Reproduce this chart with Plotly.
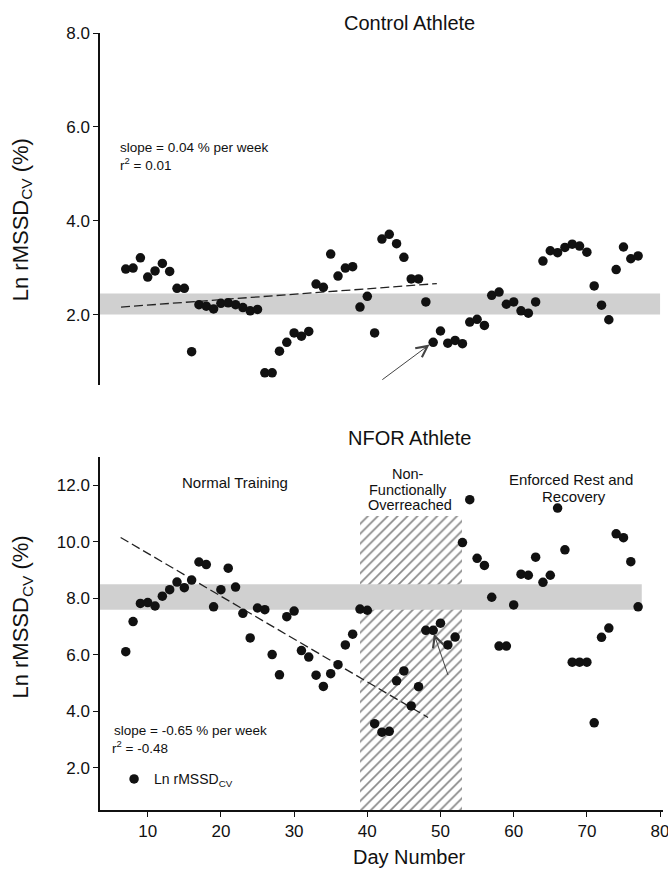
import plotly.graph_objects as go

# ---------------- data ----------------
days = list(range(7, 78))

control_vals = [
    2.97, 2.99, 3.21, 2.80, 2.93, 3.09, 2.92, 2.56, 2.56, 1.21,
    2.21, 2.18, 2.12, 2.24, 2.25, 2.21, 2.15, 2.08, 2.11, 0.76,
    0.76, 1.22, 1.41, 1.61, 1.54, 1.64, 2.65, 2.58, 3.29, 2.82,
    2.99, 3.02, 2.16, 2.39, 1.61, 3.61, 3.71, 3.51, 3.22, 2.76,
    2.76, 2.27, 1.41, 1.65, 1.39, 1.45, 1.38, 1.84, 1.90, 1.77,
    2.41, 2.48, 2.22, 2.27, 2.08, 2.03, 2.27, 3.14, 3.36, 3.32,
    3.43, 3.50, 3.46, 3.33, 2.61, 2.20, 1.89, 2.96, 3.44, 3.19,
    3.25,
]

nfor_vals = [
    6.11, 7.18, 7.82, 7.85, 7.73, 8.08, 8.31, 8.58, 8.38, 8.65,
    9.29, 9.20, 7.70, 8.31, 9.07, 8.40, 7.47, 6.60, 7.66, 7.60,
    6.01, 5.29, 7.35, 7.55, 6.15, 5.92, 5.28, 4.88, 5.33, 5.65,
    6.35, 6.73, 7.62, 7.58, 3.56, 3.26, 3.29, 5.08, 5.43, 4.19,
    4.87, 6.87, 6.87, 7.12, 6.35, 6.63, 9.98, 11.50, 9.42, 9.17,
    8.04, 6.31, 6.31, 7.77, 8.86, 8.82, 9.46, 8.57, 8.82, 11.20,
    9.72, 5.74, 5.74, 5.74, 3.59, 6.62, 6.95, 10.29, 10.15, 9.30,
    7.70,
]

# trend lines (end points)
control_trend_x = [6.35, 49.5]
control_trend_y = [2.16, 2.66]
nfor_trend_x = [6.3, 48.3]
nfor_trend_y = [10.16, 3.78]

# reference bands (normal range)
control_band = [2.0, 2.45]
control_band_end = 80.0
nfor_band = [7.6, 8.5]
nfor_band_end = 77.5

# non-functionally overreached period
nfor_period = [39.0, 53.0]
nfor_period_top = 10.9

x_range = [3.48, 80.4]
y1_range = [0.5, 8.0]
y2_range = [0.5, 13.0]
y1_ticks = [2, 4, 6, 8]
y2_ticks = [2, 4, 6, 8, 10, 12]
x_ticks = [10, 20, 30, 40, 50, 60, 70, 80]

FONT = "Liberation Sans, Arial, Helvetica, sans-serif"
INK = "#111111"
BAND = "#d0d0d0"

fig = go.Figure()

# hatched NFOR period (bar with pattern)
fig.add_trace(go.Bar(
    x=[(nfor_period[0] + nfor_period[1]) / 2],
    y=[nfor_period_top - y2_range[0]],
    base=[y2_range[0]],
    width=[nfor_period[1] - nfor_period[0]],
    marker=dict(color="white", line=dict(width=0),
                pattern=dict(shape="/", fgcolor="#111111", bgcolor="white",
                             size=7, solidity=0.24, fillmode="overlay")),
    xaxis="x2", yaxis="y2", showlegend=False, hoverinfo="skip",
))

# grey bands
fig.add_trace(go.Scatter(
    x=[x_range[0], control_band_end, control_band_end, x_range[0]],
    y=[control_band[0], control_band[0], control_band[1], control_band[1]],
    fill="toself", fillcolor=BAND, mode="lines", line=dict(width=0),
    xaxis="x", yaxis="y", showlegend=False, hoverinfo="skip",
))
fig.add_trace(go.Scatter(
    x=[x_range[0], nfor_band_end, nfor_band_end, x_range[0]],
    y=[nfor_band[0], nfor_band[0], nfor_band[1], nfor_band[1]],
    fill="toself", fillcolor=BAND, mode="lines", line=dict(width=0),
    xaxis="x2", yaxis="y2", showlegend=False, hoverinfo="skip",
))

# trend lines
fig.add_trace(go.Scatter(
    x=control_trend_x, y=control_trend_y, mode="lines",
    line=dict(color="#222222", width=1.3, dash="9px,4px"),
    xaxis="x", yaxis="y", showlegend=False, hoverinfo="skip",
))
fig.add_trace(go.Scatter(
    x=nfor_trend_x, y=nfor_trend_y, mode="lines",
    line=dict(color="#222222", width=1.3, dash="9px,4px"),
    xaxis="x2", yaxis="y2", showlegend=False, hoverinfo="skip",
))

# points
fig.add_trace(go.Scatter(
    x=days, y=control_vals, mode="markers",
    marker=dict(color=INK, size=9.5),
    xaxis="x", yaxis="y", showlegend=False,
))
fig.add_trace(go.Scatter(
    x=days, y=nfor_vals, mode="markers",
    marker=dict(color=INK, size=9.5),
    xaxis="x2", yaxis="y2", showlegend=True,
    name="Ln rMSSD<sub>CV</sub>",
))

axis_common = dict(
    showgrid=False, zeroline=False, showline=True, linecolor=INK,
    linewidth=1.5, ticks="outside", ticklen=5, tickwidth=1.2,
    tickcolor=INK, tickfont=dict(family=FONT, size=17, color=INK),
    ticklabeloverflow="allow", automargin=False,
)

fig.update_layout(
    width=668, height=870,
    margin=dict(l=100, r=5, t=33, b=60, autoexpand=False),
    plot_bgcolor="white", paper_bgcolor="white",
    font=dict(family=FONT, color=INK),
    bargap=0,
    xaxis=dict(domain=[0, 1], anchor="y", range=x_range, visible=False),
    yaxis=dict(domain=[0.547, 1.0], anchor="x", range=y1_range,
               tickvals=y1_ticks, tickformat=".1f", **axis_common),
    xaxis2=dict(domain=[0, 1], anchor="y2", range=x_range,
                tickvals=x_ticks, **axis_common),
    yaxis2=dict(domain=[0, 0.4539], anchor="x2", range=y2_range,
                tickvals=y2_ticks, tickformat=".1f", **axis_common),
    legend=dict(x=0.025, y=0.06, xanchor="left", yanchor="top",
                bgcolor="rgba(0,0,0,0)", font=dict(family=FONT, size=14, color=INK)),
)

ann = []


def txt(text, x, y, size, xref="paper", yref="paper", xanchor="center",
        textangle=0):
    ann.append(dict(text=text, x=x, y=y, xref=xref, yref=yref,
                    xanchor=xanchor, yanchor="middle", showarrow=False,
                    textangle=textangle,
                    font=dict(family=FONT, size=size, color=INK)))


# titles
txt("Control Athlete", 0.550, 1.0131, 20)
txt("NFOR Athlete", 0.550, 0.4792, 20)
txt("Day Number", 0.5506, -0.0605, 20)
txt("Ln rMSSD<sub>CV</sub> (%)", -0.1385, 0.759, 22, textangle=-90)
txt("Ln rMSSD<sub>CV</sub> (%)", -0.1385, 0.2477, 22, textangle=-90)

# panel texts
txt("slope = 0.04 % per week", 5.94, 5.56, 13.5, "x", "y", "left")
txt("r<sup>2</sup> = 0.01", 5.94, 5.20, 13.5, "x", "y", "left")
txt("slope = -0.65 % per week", 5.08, 3.33, 13.5, "x2", "y2", "left")
txt("r<sup>2</sup> = -0.48", 4.85, 2.74, 13.5, "x2", "y2", "left")
txt("Normal Training", 21.9, 12.12, 15, "x2", "y2")
txt("Non-", 45.6, 12.40, 14.5, "x2", "y2")
txt("Functionally", 45.5, 11.85, 14.5, "x2", "y2")
txt("Overreached", 45.8, 11.30, 14.5, "x2", "y2")
txt("Enforced Rest and", 67.8, 12.2, 15, "x2", "y2")
txt("Recovery", 68.2, 11.61, 15, "x2", "y2")

# arrows
ann.append(dict(text="", x=48.5, y=1.36, ax=41.85, ay=0.59,
                xref="x", yref="y", axref="x", ayref="y",
                showarrow=True, arrowhead=5, arrowsize=2.2, arrowwidth=1,
                arrowcolor="#444444", standoff=0))
ann.append(dict(text="", x=49.1, y=6.75, ax=51.1, ay=5.23,
                xref="x2", yref="y2", axref="x2", ayref="y2",
                showarrow=True, arrowhead=5, arrowsize=2.2, arrowwidth=1,
                arrowcolor="#444444", standoff=0))

fig.update_layout(annotations=ann)

fig.write_html("out.html")
